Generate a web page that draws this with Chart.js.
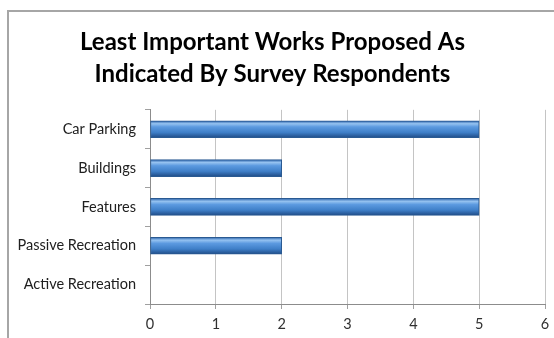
<!DOCTYPE html>
<html>
<head>
<meta charset="utf-8">
<script src="https://cdn.jsdelivr.net/npm/chart.js@4.4.1/dist/chart.umd.min.js"></script>
<style>
  html, body { margin: 0; padding: 0; background: #fff; overflow: hidden; }
  #wrap { position: relative; width: 554px; height: 338px; }
  #frame {
    position: absolute; left: 7px; top: 10px; width: 600px; height: 400px;
    border: 2px solid #a6a6a6; box-sizing: border-box;
  }
  canvas { position: absolute; left: 0; top: 0; }
</style>
</head>
<body>
<div id="wrap">
  <div id="frame"></div>
  <canvas id="workChart" width="554" height="338"></canvas>
</div>
<script>
// chart data
const categories = ["Car Parking", "Buildings", "Features", "Passive Recreation", "Active Recreation"];
const responses = [5, 2, 5, 2, 0];
const axisMax = 6;

const labelFont = { family: "Lato", size: 14.5 };

// blue bar with a shiny top edge, like the office chart
const barFill = (context) => {
  const chart = context.chart;
  const yScale = chart.scales.y;
  if (!chart.chartArea || !yScale) return "#4a86c8";
  const mid = yScale.getPixelForValue(context.dataIndex);
  const g = chart.ctx.createLinearGradient(0, mid - 8, 0, mid + 8);
  g.addColorStop(0, "#3a70b4");
  g.addColorStop(0.15, "#95c2f0");
  g.addColorStop(0.35, "#5c9ae0");
  g.addColorStop(0.7, "#3f7fc8");
  g.addColorStop(1, "#22508c");
  return g;
};

new Chart(document.getElementById("workChart"), {
  type: "bar",
  data: {
    labels: categories,
    datasets: [
      {
        data: responses,
        backgroundColor: barFill,
        borderColor: "#2a5a92",
        borderWidth: 1,
        borderSkipped: false,
        barThickness: 17,
      },
    ],
  },
  options: {
    indexAxis: "y",
    responsive: false,
    animation: false,
    layout: { padding: { left: 0, right: 9, top: 0, bottom: 0 } },
    plugins: {
      legend: { display: false },
      tooltip: { enabled: false },
      title: {
        display: true,
        text: ["Least Important Works Proposed As", "Indicated By Survey Respondents"],
        color: "#000",
        font: { family: "Lato", size: 24, weight: "bold", lineHeight: 1.33 },
        padding: { top: 26, bottom: 20 },
      },
    },
    scales: {
      x: {
        min: 0,
        max: axisMax,
        ticks: { stepSize: 1, color: "#303030", font: labelFont, padding: 7 },
        grid: { color: "#c4c4c4", tickLength: 5, tickColor: "#a0a0a0" },
        border: { color: "#8c8c8c" },
        afterFit: (scale) => {
          scale.height = 34;
          scale.paddingLeft = 0;
          scale.paddingRight = 0;
        },
      },
      y: {
        ticks: { color: "#202020", font: labelFont, padding: 9 },
        grid: { drawOnChartArea: false, tickLength: 5, color: "#a0a0a0" },
        border: { color: "#8c8c8c" },
        afterFit: (scale) => { scale.width = 150; },
      },
    },
  },
});
</script>
</body>
</html>
